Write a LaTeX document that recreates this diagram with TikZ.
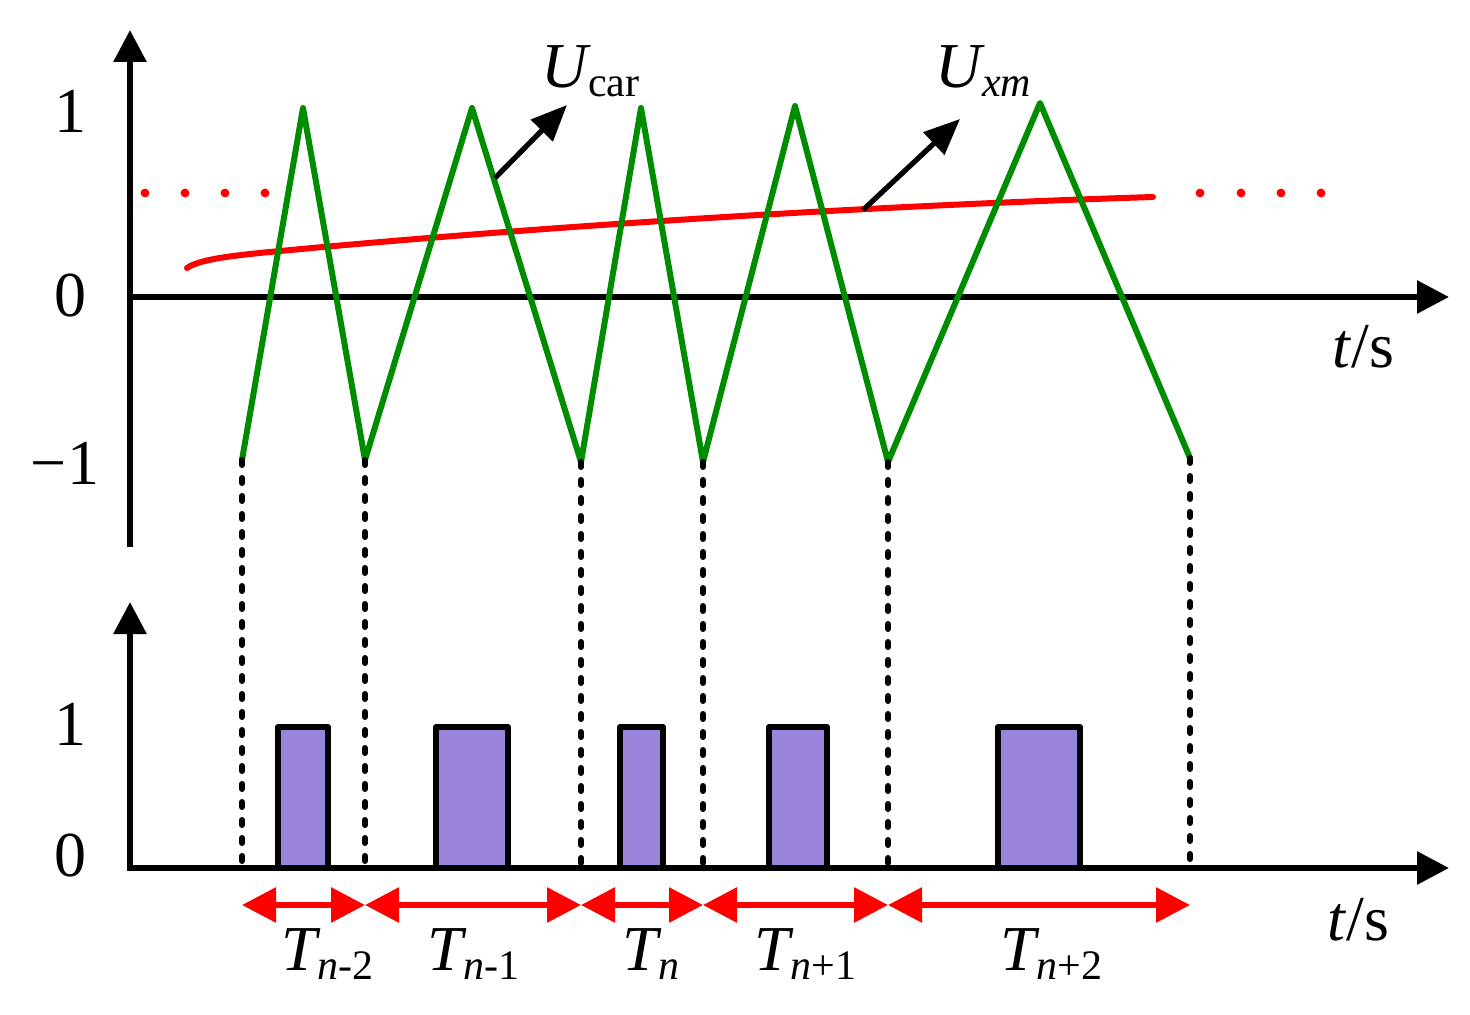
\documentclass[tikz,border=0pt]{standalone}
\usepackage{fontspec}
\setmainfont{Liberation Serif}
\usetikzlibrary{arrows.meta}
\definecolor{wavegreen}{RGB}{0,140,0}
\definecolor{pulsefill}{RGB}{155,132,219}
\tikzset{
  axis/.style={line width=3pt,-{Triangle[length=16pt,width=16pt]}},
  carrier/.style={wavegreen,line width=3pt,line join=round},
  modwave/.style={red,line width=3pt,line cap=round},
  guide/.style={line width=3pt,dash pattern=on 2.5pt off 6.5pt,line cap=round},
  pulse/.style={fill=pulsefill,draw=black,line width=3pt,line join=round},
  period/.style={red,line width=3pt,{Triangle[length=17pt,width=17pt]}-{Triangle[length=17pt,width=17pt]}},
  pointer/.style={line width=2.6pt,-{Triangle[length=18pt,width=15pt]}},
  lbl/.style={font=\fontsize{32}{36}\selectfont,inner sep=0pt}
}
\newcommand{\subs}[1]{\raisebox{-4.5pt}{\fontsize{21}{24}\selectfont #1}}
\begin{document}
\begin{tikzpicture}[x=0.5pt,y=-0.5pt]
        \useasboundingbox (0,0) rectangle (1470,1015);
        % corners of the carrier
        \coordinate (v1) at (242,460); \coordinate (p1) at (303,108);
        \coordinate (v2) at (365,460); \coordinate (p2) at (472,108);
        \coordinate (v3) at (581,462); \coordinate (p3) at (641,108);
        \coordinate (v4) at (703,462); \coordinate (p4) at (795,106);
        \coordinate (v5) at (888,462); \coordinate (p5) at (1040,103);
        \coordinate (v6) at (1190,458);
        % pulses
        \foreach \a/\b in {278/328,436/508,620/663,769/827,998/1080} \draw[pulse] (\a,868) rectangle (\b,727);
        % axes
        \draw[axis] (130,547) -- (130,30);
        \draw[axis] (127,297) -- (1449,297);
        \draw[axis] (130,871) -- (130,602);
        \draw[axis] (127,868) -- (1449,868);
        % modulating wave
        \draw[modwave] (187,268) .. controls (203,257) and (250,254) .. (312,248) .. controls (600,222) and (900,205) .. (1153,197);
        \foreach \x in {145,185,225,265,1200,1241,1281,1321} \fill[red] (\x,193) circle (2.2pt);
        % carrier
        \draw[carrier] (v1)--(p1)--(v2)--(p2)--(v3)--(p3)--(v4)--(p4)--(v5)--(p5)--(v6);
        \foreach \i in {1,...,6} \draw[guide] (v\i) -- (v\i |- 0,868);
        \foreach \i/\j in {1/2,2/3,3/4,4/5,5/6} \draw[period] (v\i |- 0,905) -- (v\j |- 0,905);
        % labels
        \node[lbl,anchor=base](y1)at(70,133){1};
        \node[lbl,anchor=base](y0)at(70,317){0};
        \node[lbl,anchor=base](ym)at(65,484){−1};
        \node[lbl,anchor=base](z1)at(70,745){1};
        \node[lbl,anchor=base](z0)at(70,876){0};
        \node[lbl,anchor=base](ta)at(1363,368){\textit{t}/s};
        \node[lbl,anchor=base](tb)at(1358,940){\textit{t}/s};
        \node[lbl,anchor=base west](ucar)at(541,88){\textit{U}\kern-1.5pt\subs{car}};
        \node[lbl,anchor=base west](uxm)at(935,88){\textit{U}\kern-1.5pt\subs{\textit{xm}}};
        \foreach \x/\s [count=\i] in {281/\textit{n}-2,427/\textit{n}-1,622/\textit{n},754/\textit{n}+1,1000/\textit{n}+2}
          \node[lbl,anchor=base west](T\i)at(\x,970){\textit{T}\kern-1.5pt\subs{\s}};
        % pointers
        \coordinate (c1) at (495,178); \coordinate (e1) at (567,105);
        \coordinate (c2) at (863,210); \coordinate (e2) at (960,119);
        \draw[pointer](c1)--(e1);
        \draw[pointer](c2)--(e2);
\end{tikzpicture}
\end{document}
